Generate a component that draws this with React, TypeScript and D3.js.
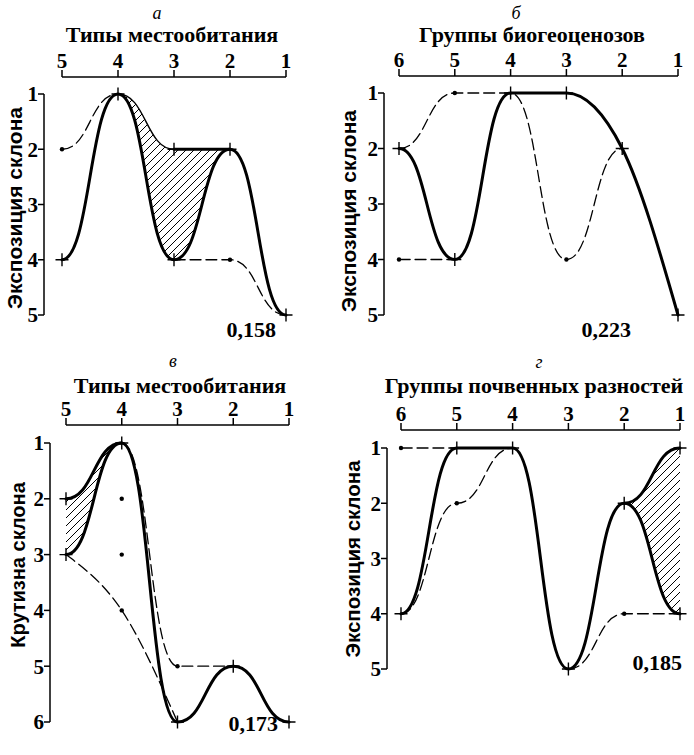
import * as d3 from "d3";

type Pt = [number, number];

// а — типы местообитания
const catsA = [5, 4, 3, 2, 1];
const ranksA = [1, 2, 3, 4, 5];
const thickA: Pt[][] = [
  [[5, 4], [4, 1], [3, 4], [2, 2], [1, 5]],
  [[3, 2], [2, 2]],
];
const thinA: Pt[][] = [[[4, 1], [3, 2]]];
const dashA: Pt[][] = [
  [[5, 2], [4, 1]],
  [[3, 4], [2, 4], [1, 5]],
];
const plusA: Pt[] = [[5, 4], [4, 1], [3, 2], [3, 4], [2, 2], [1, 5]];
const dotsA: Pt[] = [[5, 2], [2, 4]];
const hatchUpA: Pt[] = [[4, 1], [3, 2], [2, 2]];
const hatchLoA: Pt[] = [[4, 1], [3, 4], [2, 2]];

// б — группы биогеоценозов
const catsB = [6, 5, 4, 3, 2, 1];
const ranksB = [1, 2, 3, 4, 5];
const thickB: Pt[][] = [[[6, 2], [5, 4], [4, 1]]];
const thickMonoB: Pt[][] = [[[4, 1], [3, 1], [2, 2], [1, 5]]];
const dashB: Pt[][] = [
  [[6, 2], [5, 1], [4, 1], [3, 4], [2, 2]],
  [[6, 4], [5, 4]],
];
const plusB: Pt[] = [[6, 2], [5, 4], [4, 1], [3, 1], [2, 2], [1, 5]];
const dotsB: Pt[] = [[6, 4], [5, 1], [3, 4]];

// в — типы местообитания, крутизна
const catsC = [5, 4, 3, 2, 1];
const ranksC = [1, 2, 3, 4, 5, 6];
const thickC: Pt[][] = [
  [[5, 2], [4, 1]],
  [[5, 3], [4, 1], [3, 6], [2, 5], [1, 6]],
];
const dashC: Pt[][] = [[[4, 1], [3, 5], [2, 5]]];
const dashMonoC: Pt[][] = [[[5, 3], [4, 4], [3, 6]]];
const plusC: Pt[] = [[5, 2], [5, 3], [4, 1], [3, 6], [2, 5], [1, 6]];
const dotsC: Pt[] = [[4, 2], [4, 3], [4, 4], [3, 5]];
const hatchUpC: Pt[] = [[5, 2], [4, 1]];
const hatchLoC: Pt[] = [[5, 3], [4, 1]];

// г — группы почвенных разностей
const catsD = [6, 5, 4, 3, 2, 1];
const ranksD = [1, 2, 3, 4, 5];
const thickD: Pt[][] = [
  [[6, 4], [5, 1], [4, 1], [3, 5], [2, 2], [1, 1]],
  [[2, 2], [1, 4]],
];
const dashD: Pt[][] = [
  [[6, 1], [5, 1]],
  [[6, 4], [5, 2], [4, 1]],
  [[3, 5], [2, 4], [1, 4]],
];
const plusD: Pt[] = [[6, 4], [5, 1], [4, 1], [3, 5], [2, 2], [1, 1], [1, 4]];
const dotsD: Pt[] = [[6, 1], [5, 2], [2, 4]];
const hatchUpD: Pt[] = [[2, 2], [1, 1]];
const hatchLoD: Pt[] = [[2, 2], [1, 4]];

const SERIF = "'Liberation Serif', 'Times New Roman', serif";
const SANS = "'Liberation Sans', Arial, sans-serif";

interface PanelCfg {
  letter: string;
  title: string;
  yTitle: string;
  yTitleSize: number;
  coef: string;
  cats: number[];
  ranks: number[];
  xRange: [number, number];
  yRange: [number, number];
  axisTop: number;
  axisLeft: number;
  titleX: number;
  titleY: number;
  letterX: number;
  letterY: number;
  yTitleX: number;
  yTitleY: number;
  coefX: number;
  coefY: number;
  lines: { pts: Pt[]; kind: "thick" | "thin" | "dash"; mono?: boolean }[];
  plus: Pt[];
  dots: Pt[];
  hatch?: { up: Pt[]; lo: Pt[] };
}

const lineKinds = {
  thick: { strokeWidth: 3, dash: undefined },
  thin: { strokeWidth: 1.4, dash: undefined },
  dash: { strokeWidth: 1.3, dash: "11 5" },
};

const panels: PanelCfg[] = [
  {
    letter: "а", title: "Типы местообитания", yTitle: "Экспозиция склона", yTitleSize: 21, coef: "0,158",
    cats: catsA, ranks: ranksA, xRange: [62, 286], yRange: [94, 315],
    axisTop: 77, axisLeft: 44, titleX: 172, titleY: 42, letterX: 157, letterY: 19,
    yTitleX: 22, yTitleY: 208, coefX: 276, coefY: 337,
    lines: [
      ...thickA.map((pts) => ({ pts, kind: "thick" as const })),
      ...thinA.map((pts) => ({ pts, kind: "thin" as const })),
      ...dashA.map((pts) => ({ pts, kind: "dash" as const })),
    ],
    plus: plusA, dots: dotsA, hatch: { up: hatchUpA, lo: hatchLoA },
  },
  {
    letter: "б", title: "Группы биогеоценозов", yTitle: "Экспозиция склона", yTitleSize: 21, coef: "0,223",
    cats: catsB, ranks: ranksB, xRange: [399, 678], yRange: [93, 315],
    axisTop: 76, axisLeft: 384, titleX: 532, titleY: 42, letterX: 516, letterY: 19,
    yTitleX: 356, yTitleY: 211, coefX: 631, coefY: 337,
    lines: [
      ...thickB.map((pts) => ({ pts, kind: "thick" as const })),
      ...thickMonoB.map((pts) => ({ pts, kind: "thick" as const, mono: true })),
      ...dashB.map((pts) => ({ pts, kind: "dash" as const })),
    ],
    plus: plusB, dots: dotsB,
  },
  {
    letter: "в", title: "Типы местообитания", yTitle: "Крутизна склона", yTitleSize: 20, coef: "0,173",
    cats: catsC, ranks: ranksC, xRange: [66, 289], yRange: [443, 722],
    axisTop: 425, axisLeft: 50, titleX: 180, titleY: 393, letterX: 173, letterY: 367,
    yTitleX: 25, yTitleY: 565, coefX: 278, coefY: 731,
    lines: [
      ...thickC.map((pts) => ({ pts, kind: "thick" as const })),
      ...dashC.map((pts) => ({ pts, kind: "dash" as const })),
      ...dashMonoC.map((pts) => ({ pts, kind: "dash" as const, mono: true })),
    ],
    plus: plusC, dots: dotsC, hatch: { up: hatchUpC, lo: hatchLoC },
  },
  {
    letter: "г", title: "Группы почвенных разностей", yTitle: "Экспозиция склона", yTitleSize: 20.5, coef: "0,185",
    cats: catsD, ranks: ranksD, xRange: [401, 680], yRange: [448, 669],
    axisTop: 430, axisLeft: 387, titleX: 534, titleY: 393, letterX: 539, letterY: 368,
    yTitleX: 360, yTitleY: 559, coefX: 682, coefY: 670,
    lines: [
      ...thickD.map((pts) => ({ pts, kind: "thick" as const })),
      ...dashD.map((pts) => ({ pts, kind: "dash" as const })),
    ],
    plus: plusD, dots: dotsD, hatch: { up: hatchUpD, lo: hatchLoD },
  },
];

function Panel({ p }: { p: PanelCfg }) {
  const x = d3
    .scaleLinear()
    .domain([p.cats[0], p.cats[p.cats.length - 1]])
    .range(p.xRange);
  const y = d3
    .scaleLinear()
    .domain([p.ranks[0], p.ranks[p.ranks.length - 1]])
    .range(p.yRange);

  const bump = d3
    .line<Pt>()
    .x((d) => x(d[0]))
    .y((d) => y(d[1]))
    .curve(d3.curveBumpX);
  const mono = d3
    .line<Pt>()
    .x((d) => x(d[0]))
    .y((d) => y(d[1]))
    .curve(d3.curveMonotoneX);

  // штриховка между двумя кривыми
  let hatchD = "";
  if (p.hatch) {
    const up = bump(p.hatch.up) || "";
    const lo = bump([...p.hatch.lo].reverse()) || "";
    hatchD = up + lo.replace(/^M/, "L") + "Z";
  }

  return (
    <g>
      {/* верхняя ось */}
      <text x={p.letterX} y={p.letterY} textAnchor="middle" fontFamily={SERIF} fontStyle="italic" fontSize={18}>
        {p.letter}
      </text>
      <text x={p.titleX} y={p.titleY} textAnchor="middle" fontFamily={SERIF} fontWeight="bold" fontSize={22}>
        {p.title}
      </text>
      <line x1={x(p.cats[0])} x2={x(p.cats[p.cats.length - 1])} y1={p.axisTop} y2={p.axisTop} stroke="#000" strokeWidth={1.5} />
      {p.cats.map((c) => (
        <g key={c}>
          <line x1={x(c)} x2={x(c)} y1={p.axisTop} y2={p.axisTop - 7} stroke="#000" strokeWidth={1.5} />
          <text x={x(c)} y={p.axisTop - 9} textAnchor="middle" fontFamily={SERIF} fontWeight="bold" fontSize={21}>
            {c}
          </text>
        </g>
      ))}

      {/* левая ось */}
      <text
        transform={`translate(${p.yTitleX},${p.yTitleY}) rotate(-90)`}
        textAnchor="middle"
        fontFamily={SANS}
        fontWeight="bold"
        fontSize={p.yTitleSize}
      >
        {p.yTitle}
      </text>
      <line x1={p.axisLeft} x2={p.axisLeft} y1={y(p.ranks[0])} y2={y(p.ranks[p.ranks.length - 1])} stroke="#000" strokeWidth={1.5} />
      {p.ranks.map((r) => (
        <g key={r}>
          <line x1={p.axisLeft - 6} x2={p.axisLeft} y1={y(r)} y2={y(r)} stroke="#000" strokeWidth={1.5} />
          <text x={p.axisLeft - 6} y={y(r)} dy="0.35em" textAnchor="end" fontFamily={SERIF} fontWeight="bold" fontSize={21}>
            {r}
          </text>
        </g>
      ))}

      {hatchD && <path d={hatchD} fill="url(#hatch)" stroke="none" />}

      {p.lines.map((l, i) => {
        const k = lineKinds[l.kind];
        return (
          <path
            key={i}
            d={(l.mono ? mono(l.pts) : bump(l.pts)) || ""}
            fill="none"
            stroke="#000"
            strokeWidth={k.strokeWidth}
            strokeDasharray={k.dash}
            strokeLinecap="round"
          />
        );
      })}

      {p.plus.map((d, i) => (
        <path
          key={"p" + i}
          d={`M${x(d[0]) - 6.5},${y(d[1])}h13M${x(d[0])},${y(d[1]) - 6.5}v13`}
          stroke="#000"
          strokeWidth={1.4}
        />
      ))}
      {p.dots.map((d, i) => (
        <circle key={"d" + i} cx={x(d[0])} cy={y(d[1])} r={2.2} fill="#000" />
      ))}

      <text x={p.coefX} y={p.coefY} textAnchor="end" fontFamily={SERIF} fontWeight="bold" fontSize={22}>
        {p.coef}
      </text>
    </g>
  );
}

export default function App() {
  return (
    <svg
      width={694}
      height={755}
      style={{ position: "absolute", left: 0, top: 0, background: "#fff" }}
    >
      <defs>
        <pattern id="hatch" width={8} height={8} patternUnits="userSpaceOnUse">
          <path d="M-2,2L2,-2M0,8L8,0M6,10L10,6" stroke="#000" strokeWidth={1} />
        </pattern>
      </defs>
      {panels.map((p) => (
        <Panel key={p.letter} p={p} />
      ))}
    </svg>
  );
}
